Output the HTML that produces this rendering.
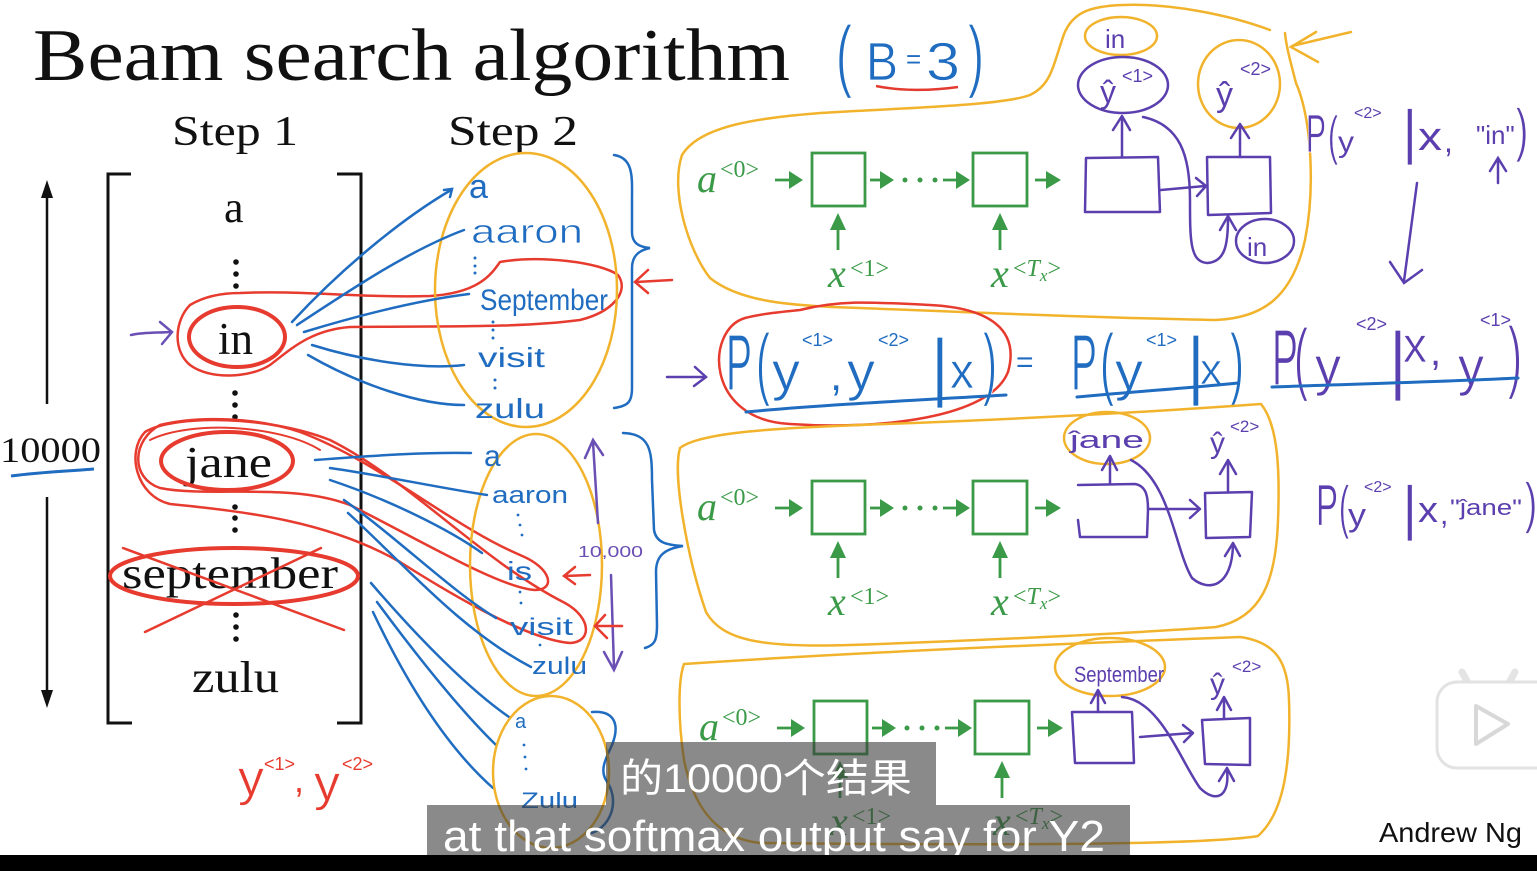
<!DOCTYPE html>
<html><head><meta charset="utf-8"><style>
html,body{margin:0;padding:0;background:#fff;}
svg{display:block;}
.hw{font-family:"Liberation Sans",sans-serif;}
.th{stroke:#fff;stroke-width:0.7px;}
.th2{stroke:#fff;stroke-width:1.3px;}
.ser{font-family:"Liberation Serif",serif;}
</style></head><body>
<svg width="1537" height="871" viewBox="0 0 1537 871" xmlns="http://www.w3.org/2000/svg">
<rect width="1537" height="871" fill="#fff"/>

<!-- Title -->
<text class="ser" x="33" y="80" font-size="74" textLength="757" lengthAdjust="spacingAndGlyphs" fill="#111">Beam search algorithm</text>
<text class="ser" x="172" y="145" font-size="42" textLength="126" lengthAdjust="spacingAndGlyphs" fill="#111">Step 1</text>
<text class="ser" x="448" y="145" font-size="42" textLength="130" lengthAdjust="spacingAndGlyphs" fill="#111">Step 2</text>

<!-- (B=3) -->
<g fill="#1f6cc0" class="hw">
<text class="th2" x="836" y="82" font-size="80" textLength="16" lengthAdjust="spacingAndGlyphs">(</text>
<text class="th" x="866" y="80" font-size="54" textLength="32" lengthAdjust="spacingAndGlyphs">B</text>
<text x="906" y="68" font-size="26">=</text>
<text class="th" x="926" y="80" font-size="54" textLength="34" lengthAdjust="spacingAndGlyphs">3</text>
<text class="th2" x="968" y="82" font-size="80" textLength="16" lengthAdjust="spacingAndGlyphs">)</text>
</g>
<path d="M876,86 C900,91 930,91 958,87" stroke="#e33b2f" stroke-width="2.5" fill="none"/>

<!-- Left arrows and 10000 -->
<g stroke="#111" stroke-width="2.5" fill="#111">
<line x1="47" y1="196" x2="47" y2="404"/>
<polygon points="41,198 47,180 53,198" stroke="none"/>
<line x1="47" y1="497" x2="47" y2="690"/>
<polygon points="41,690 47,708 53,690" stroke="none"/>
</g>
<text class="ser" x="0" y="462" font-size="36" textLength="101" lengthAdjust="spacingAndGlyphs" fill="#111">10000</text>
<path d="M11,476 C40,472 70,471 94,469" stroke="#1f6cc0" stroke-width="3" fill="none"/>

<!-- Bracket -->
<path d="M131,174 L108,174 L108,723 L132,723" stroke="#111" stroke-width="3" fill="none"/>
<path d="M337,174 L361,174 L361,723 L337,723" stroke="#111" stroke-width="3" fill="none"/>

<!-- Step1 words -->
<g class="ser" fill="#111">
<text x="224" y="222" font-size="44">a</text>
<text x="218" y="354" font-size="45">in</text>
<text x="185" y="477" font-size="44" textLength="87" lengthAdjust="spacingAndGlyphs">jane</text>
<text x="122" y="588" font-size="44" textLength="216" lengthAdjust="spacingAndGlyphs">september</text>
<text x="192" y="692" font-size="44" textLength="87" lengthAdjust="spacingAndGlyphs">zulu</text>
</g>
<g fill="#111">
<circle cx="236" cy="262" r="2.8"/><circle cx="236" cy="274" r="2.8"/><circle cx="236" cy="286" r="2.8"/>
<circle cx="235" cy="393" r="2.8"/><circle cx="235" cy="405" r="2.8"/><circle cx="235" cy="417" r="2.8"/>
<circle cx="235" cy="507" r="2.8"/><circle cx="235" cy="518" r="2.8"/><circle cx="235" cy="530" r="2.8"/>
<circle cx="236" cy="615" r="2.8"/><circle cx="236" cy="627" r="2.8"/><circle cx="236" cy="639" r="2.8"/>
</g>

<!-- Red marks in step 1 -->
<g stroke="#e63b2e" fill="none" stroke-linecap="round">
<ellipse cx="237" cy="337" rx="48" ry="30" stroke-width="4"/>
<path d="M240,293 C300,290 360,298 430,296 C480,293 492,273 500,262 C540,255 600,262 618,275 C630,292 612,312 580,320 C520,328 440,326 350,327 C310,330 290,350 270,365 C250,378 210,380 190,365 C172,350 175,320 190,305 C205,296 222,293 240,293 Z" stroke-width="2.5"/>
<ellipse cx="227" cy="461" rx="66" ry="29" stroke-width="4"/>
<path d="M160,425 C200,415 260,418 300,432 C380,462 450,525 520,555 C552,568 556,590 535,590 C500,588 420,540 350,505 C290,482 210,498 160,488 C130,478 132,440 160,425 Z" stroke-width="2.5"/>
<path d="M145,432 C175,414 270,416 330,440 C410,480 480,560 565,603 C592,618 592,642 570,643 C530,640 460,600 400,562 C330,522 250,512 170,504 C136,496 126,452 145,432 Z" stroke-width="2.5"/>
<path d="M150,440 C190,420 280,425 320,450" stroke-width="2"/>
<ellipse cx="234" cy="576" rx="124" ry="28" stroke-width="4"/>
<line x1="123" y1="548" x2="344" y2="630" stroke-width="2.5"/>
<line x1="145" y1="632" x2="321" y2="548" stroke-width="2.5"/>
</g>
<g stroke="#6a4fb5" stroke-width="2.5" fill="none" stroke-linecap="round">
<path d="M131,335 C145,332 158,333 171,332"/>
<path d="M160,322 L172,332 L162,344"/>
</g>

<!-- red y1 y2 -->
<g fill="#e63b2e" class="hw">
<text class="th" x="238" y="795" font-size="50" textLength="26" lengthAdjust="spacingAndGlyphs">y</text>
<text x="264" y="770" font-size="18">&lt;1&gt;</text>
<text x="294" y="792" font-size="36">,</text>
<text class="th" x="314" y="800" font-size="50" textLength="26" lengthAdjust="spacingAndGlyphs">y</text>
<text x="342" y="770" font-size="18">&lt;2&gt;</text>
</g>

<!-- Step 2 top ellipse -->
<ellipse cx="526" cy="290" rx="91" ry="137" stroke="#f2b32c" stroke-width="2.5" fill="none"/>
<g fill="#1f6cc0" class="hw">
<text x="469" y="198" font-size="34">a</text>
<text class="th" x="471" y="243" font-size="34" textLength="112" lengthAdjust="spacingAndGlyphs">aaron</text>
<text x="480" y="310" font-size="30" textLength="128" lengthAdjust="spacingAndGlyphs">September</text>
<text x="478" y="367" font-size="28" textLength="67" lengthAdjust="spacingAndGlyphs">visit</text>
<text x="475" y="418" font-size="28" textLength="70" lengthAdjust="spacingAndGlyphs">zulu</text>
</g>
<g fill="#1f6cc0">
<circle cx="475" cy="258" r="1.5"/><circle cx="475" cy="266" r="1.5"/><circle cx="475" cy="273" r="1.5"/>
<circle cx="493" cy="322" r="1.5"/><circle cx="493" cy="330" r="1.5"/><circle cx="493" cy="338" r="1.5"/>
<circle cx="495" cy="380" r="1.5"/><circle cx="495" cy="388" r="1.5"/>
</g>
<g stroke="#1f6cc0" stroke-width="2.5" fill="none" stroke-linecap="round">
<path d="M292,322 C340,270 400,220 451,190"/>
<path d="M444,190 L452,189 L450,197"/>
<path d="M297,325 C350,290 410,250 464,230"/>
<path d="M304,332 C360,315 420,300 469,294"/>
<path d="M312,345 C360,360 420,370 464,365"/>
<path d="M308,355 C360,385 420,405 464,405"/>
<path d="M614,155 C634,158 632,178 632,200 L632,232 C632,244 640,247 650,248 C640,250 632,255 632,268 L632,388 C632,402 628,406 614,408"/>
</g>
<g stroke="#e63b2e" stroke-width="2.5" fill="none" stroke-linecap="round">
<path d="M672,280 L636,282"/>
<path d="M648,270 L635,282 L648,293"/>
</g>

<!-- Step 2 second ellipse -->
<ellipse cx="536" cy="565" rx="66" ry="131" stroke="#f2b32c" stroke-width="2.5" fill="none"/>
<g fill="#1f6cc0" class="hw">
<text x="484" y="466" font-size="30">a</text>
<text x="492" y="503" font-size="24" textLength="76" lengthAdjust="spacingAndGlyphs">aaron</text>
<text x="507" y="580" font-size="26" textLength="25" lengthAdjust="spacingAndGlyphs">is</text>
<text x="510" y="635" font-size="24" textLength="63" lengthAdjust="spacingAndGlyphs">visit</text>
<text x="532" y="674" font-size="24" textLength="55" lengthAdjust="spacingAndGlyphs">zulu</text>
</g>
<g fill="#1f6cc0">
<circle cx="518" cy="515" r="1.4"/><circle cx="520" cy="525" r="1.4"/><circle cx="522" cy="535" r="1.4"/>
<circle cx="520" cy="592" r="1.4"/><circle cx="521" cy="603" r="1.4"/>
<circle cx="540" cy="645" r="1.4"/>
</g>
<g stroke="#6a4fb5" stroke-width="2.5" fill="none" stroke-linecap="round">
<path d="M598,523 L593,442"/><path d="M585,458 L593,440 L603,455"/>
<path d="M611,575 L614,668"/><path d="M604,652 L614,670 L622,652"/>
</g>
<text x="578" y="557" font-size="16" fill="#6a4fb5" class="hw" textLength="65" lengthAdjust="spacingAndGlyphs">10,000</text>
<g stroke="#e63b2e" stroke-width="2.5" fill="none" stroke-linecap="round">
<path d="M590,575 L565,576"/><path d="M575,567 L564,576 L575,584"/>
<path d="M622,626 L596,626"/><path d="M605,615 L595,626 L607,638"/>
</g>
<g stroke="#1f6cc0" stroke-width="2.5" fill="none" stroke-linecap="round">
<path d="M623,433 C650,434 652,450 652,480 L654,530 C656,542 665,545 683,546 C664,549 656,556 656,572 L657,625 C657,640 655,645 645,648"/>
<path d="M315,460 C380,455 430,452 471,453"/>
<path d="M330,468 C380,475 440,488 487,495"/>
<path d="M330,480 C390,500 450,530 482,553"/>
<path d="M344,500 C400,540 450,590 496,618"/>
<path d="M348,513 C400,560 460,630 531,667"/>
<path d="M371,583 C420,640 470,690 509,717"/>
<path d="M377,602 C420,660 460,710 496,745"/>
<path d="M373,612 C410,690 450,750 493,788"/>
<path d="M592,712 C615,710 620,725 612,745 C605,760 600,770 606,780 C620,800 612,825 592,833"/>
</g>

<!-- Step 2 third ellipse -->
<ellipse cx="551" cy="772" rx="58" ry="76" stroke="#f2b32c" stroke-width="2.5" fill="none"/>
<g fill="#1f6cc0" class="hw">
<text x="515" y="728" font-size="20">a</text>
<text x="521" y="808" font-size="22" textLength="57" lengthAdjust="spacingAndGlyphs">Zulu</text>
</g>
<g fill="#1f6cc0">
<circle cx="524" cy="745" r="1.4"/><circle cx="525" cy="757" r="1.4"/><circle cx="526" cy="769" r="1.4"/>
</g>

<!-- Right top orange lasso -->
<g stroke="#f2b32c" stroke-width="2.5" fill="none" stroke-linecap="round">
<path d="M1270,30 C1230,15 1170,3 1123,5 C1090,6 1070,12 1062,40 C1052,70 1050,85 1030,95 C1000,106 900,108 820,113 C760,118 700,125 682,155 C670,190 688,250 710,278 C740,302 790,306 860,308 C960,312 1100,318 1216,320 C1262,318 1292,298 1305,240 C1315,190 1312,120 1296,83 C1290,60 1286,45 1285,33"/>
<path d="M1351,32 L1292,46"/>
<path d="M1316,32 L1291,47 L1318,62"/>
<ellipse cx="1121" cy="36" rx="36" ry="19"/>
<ellipse cx="1239" cy="84" rx="41" ry="44"/>
</g>

<!-- RNN green groups -->
<g>
<g fill="#3a9a47" stroke="none">
<text class="ser" x="697" y="192" font-size="40" font-style="italic">a</text>
<text class="ser" x="720" y="177" font-size="24">&lt;0&gt;</text>
<polygon points="789,171 803,180 789,189"/>
<polygon points="880,171 894,180 880,189"/>
<polygon points="956,171 970,180 956,189"/>
<polygon points="1046,171 1061,180 1046,189"/>
<circle cx="905" cy="180" r="2.5"/><circle cx="920" cy="180" r="2.5"/><circle cx="935" cy="180" r="2.5"/>
<polygon points="830,230 838,213 846,230"/>
<polygon points="992,230 1000,213 1008,230"/>
<text class="ser" x="828" y="287" font-size="40" font-style="italic">x</text>
<text class="ser" x="850" y="276" font-size="24">&lt;1&gt;</text>
<text class="ser" x="991" y="287" font-size="40" font-style="italic">x</text>
<text class="ser" x="1013" y="276" font-size="24">&lt;<tspan font-style="italic">T</tspan><tspan font-size="17" dy="5" font-style="italic">x</tspan><tspan dy="-5">&gt;</tspan></text>
</g>
<g stroke="#3a9a47" stroke-width="2.8" fill="none">
<line x1="775" y1="180" x2="792" y2="180"/>
<line x1="870" y1="180" x2="884" y2="180"/>
<line x1="943" y1="180" x2="960" y2="180"/>
<line x1="1035" y1="180" x2="1050" y2="180"/>
<rect x="812" y="153" width="53" height="53"/>
<rect x="973" y="153" width="54" height="53"/>
<line x1="838" y1="228" x2="838" y2="250"/>
<line x1="1000" y1="228" x2="1000" y2="250"/>
</g>
</g>
<g transform="translate(0,328)">
<g fill="#3a9a47" stroke="none">
<text class="ser" x="697" y="192" font-size="40" font-style="italic">a</text>
<text class="ser" x="720" y="177" font-size="24">&lt;0&gt;</text>
<polygon points="789,171 803,180 789,189"/>
<polygon points="880,171 894,180 880,189"/>
<polygon points="956,171 970,180 956,189"/>
<polygon points="1046,171 1061,180 1046,189"/>
<circle cx="905" cy="180" r="2.5"/><circle cx="920" cy="180" r="2.5"/><circle cx="935" cy="180" r="2.5"/>
<polygon points="830,230 838,213 846,230"/>
<polygon points="992,230 1000,213 1008,230"/>
<text class="ser" x="828" y="287" font-size="40" font-style="italic">x</text>
<text class="ser" x="850" y="276" font-size="24">&lt;1&gt;</text>
<text class="ser" x="991" y="287" font-size="40" font-style="italic">x</text>
<text class="ser" x="1013" y="276" font-size="24">&lt;<tspan font-style="italic">T</tspan><tspan font-size="17" dy="5" font-style="italic">x</tspan><tspan dy="-5">&gt;</tspan></text>
</g>
<g stroke="#3a9a47" stroke-width="2.8" fill="none">
<line x1="775" y1="180" x2="792" y2="180"/>
<line x1="870" y1="180" x2="884" y2="180"/>
<line x1="943" y1="180" x2="960" y2="180"/>
<line x1="1035" y1="180" x2="1050" y2="180"/>
<rect x="812" y="153" width="53" height="53"/>
<rect x="973" y="153" width="54" height="53"/>
<line x1="838" y1="228" x2="838" y2="250"/>
<line x1="1000" y1="228" x2="1000" y2="250"/>
</g>
</g>
<g transform="translate(2,548)">
<g fill="#3a9a47" stroke="none">
<text class="ser" x="697" y="192" font-size="40" font-style="italic">a</text>
<text class="ser" x="720" y="177" font-size="24">&lt;0&gt;</text>
<polygon points="789,171 803,180 789,189"/>
<polygon points="880,171 894,180 880,189"/>
<polygon points="956,171 970,180 956,189"/>
<polygon points="1046,171 1061,180 1046,189"/>
<circle cx="905" cy="180" r="2.5"/><circle cx="920" cy="180" r="2.5"/><circle cx="935" cy="180" r="2.5"/>
<polygon points="830,230 838,213 846,230"/>
<polygon points="992,230 1000,213 1008,230"/>
<text class="ser" x="828" y="287" font-size="40" font-style="italic">x</text>
<text class="ser" x="850" y="276" font-size="24">&lt;1&gt;</text>
<text class="ser" x="991" y="287" font-size="40" font-style="italic">x</text>
<text class="ser" x="1013" y="276" font-size="24">&lt;<tspan font-style="italic">T</tspan><tspan font-size="17" dy="5" font-style="italic">x</tspan><tspan dy="-5">&gt;</tspan></text>
</g>
<g stroke="#3a9a47" stroke-width="2.8" fill="none">
<line x1="775" y1="180" x2="792" y2="180"/>
<line x1="870" y1="180" x2="884" y2="180"/>
<line x1="943" y1="180" x2="960" y2="180"/>
<line x1="1035" y1="180" x2="1050" y2="180"/>
<rect x="812" y="153" width="53" height="53"/>
<rect x="973" y="153" width="54" height="53"/>
<line x1="838" y1="228" x2="838" y2="250"/>
<line x1="1000" y1="228" x2="1000" y2="250"/>
</g>
</g>

<!-- Purple decoder top -->
<g stroke="#5b3fae" stroke-width="2.5" fill="none" stroke-linecap="round" stroke-linejoin="round">
<ellipse cx="1123" cy="85" rx="45" ry="28"/>
<path d="M1086,158 L1158,157 L1160,212 L1085,212 Z"/>
<path d="M1207,157 L1270,157 L1271,213 L1208,215 Z"/>
<path d="M1122,157 L1122,118"/><path d="M1113,130 L1122,116 L1130,130"/>
<path d="M1240,157 L1240,126"/><path d="M1231,138 L1240,124 L1249,138"/>
<path d="M1161,190 L1205,186"/><path d="M1196,178 L1206,186 L1197,196"/>
<path d="M1143,117 C1180,125 1190,155 1190,200 C1190,240 1190,262 1207,263 C1225,262 1228,245 1228,218"/>
<path d="M1220,230 L1228,216 L1236,230"/>
<ellipse cx="1265" cy="241" rx="29" ry="22"/>
</g>
<g fill="#5b3fae" class="hw">
<text x="1105" y="48" font-size="26">in</text>
<text x="1100" y="103" font-size="32">ŷ</text>
<text x="1122" y="82" font-size="18">&lt;1&gt;</text>
<text x="1216" y="106" font-size="34">ŷ</text>
<text x="1240" y="75" font-size="18">&lt;2&gt;</text>
<text x="1247" y="256" font-size="26">in</text>
</g>

<!-- P(y2|x,"in") -->
<g fill="#5b3fae" class="hw">
<text class="th" x="1306" y="152" font-size="54" textLength="20" lengthAdjust="spacingAndGlyphs">P</text>
<text class="th" x="1328" y="154" font-size="54" textLength="10" lengthAdjust="spacingAndGlyphs">(</text>
<text x="1338" y="152" font-size="30" textLength="16" lengthAdjust="spacingAndGlyphs">y</text>
<text x="1354" y="118" font-size="16">&lt;2&gt;</text>
<text class="th" x="1402" y="152" font-size="60">|</text>
<text x="1418" y="150" font-size="40" textLength="24" lengthAdjust="spacingAndGlyphs">x</text>
<text x="1444" y="152" font-size="32">,</text>
<text x="1476" y="144" font-size="26">"in"</text>
<text class="th" x="1516" y="150" font-size="58" textLength="12" lengthAdjust="spacingAndGlyphs">)</text>
</g>
<g stroke="#5b3fae" stroke-width="2.5" fill="none" stroke-linecap="round">
<path d="M1498,183 L1498,160"/><path d="M1490,171 L1498,158 L1506,171"/>
<path d="M1417,183 L1404,281"/><path d="M1390,262 L1404,283 L1422,270"/>
<path d="M667,377 L705,377"/><path d="M695,367 L706,377 L694,386"/>
</g>

<!-- Equation -->
<path d="M745,318 C705,330 705,420 790,424 C880,430 990,418 1008,372 C1020,330 990,308 930,305 C870,302 840,300 800,310 C780,312 760,314 745,318 Z" stroke="#e63b2e" stroke-width="2.5" fill="none"/>
<g fill="#1f6cc0" class="hw">
<text class="th2" x="726" y="390" font-size="80" textLength="26" lengthAdjust="spacingAndGlyphs">P</text>
<text class="th2" x="756" y="390" font-size="80" textLength="14" lengthAdjust="spacingAndGlyphs">(</text>
<text class="th" x="772" y="390" font-size="54" textLength="28" lengthAdjust="spacingAndGlyphs">y</text>
<text x="802" y="346" font-size="18">&lt;1&gt;</text>
<text x="830" y="390" font-size="44">,</text>
<text class="th" x="847" y="390" font-size="54" textLength="28" lengthAdjust="spacingAndGlyphs">y</text>
<text x="878" y="346" font-size="18">&lt;2&gt;</text>
<text class="th2" x="930" y="392" font-size="76">|</text>
<text class="th" x="950" y="388" font-size="50" textLength="24" lengthAdjust="spacingAndGlyphs">x</text>
<text class="th2" x="983" y="390" font-size="80" textLength="14" lengthAdjust="spacingAndGlyphs">)</text>
<text x="1016" y="372" font-size="30">=</text>
<text class="th2" x="1071" y="390" font-size="80" textLength="26" lengthAdjust="spacingAndGlyphs">P</text>
<text class="th2" x="1100" y="390" font-size="80" textLength="14" lengthAdjust="spacingAndGlyphs">(</text>
<text class="th" x="1115" y="390" font-size="54" textLength="28" lengthAdjust="spacingAndGlyphs">y</text>
<text x="1146" y="346" font-size="18">&lt;1&gt;</text>
<text class="th2" x="1186" y="390" font-size="76">|</text>
<text class="th" x="1200" y="384" font-size="44" textLength="22" lengthAdjust="spacingAndGlyphs">x</text>
<text class="th2" x="1230" y="390" font-size="80" textLength="14" lengthAdjust="spacingAndGlyphs">)</text>
</g>
<g fill="#5b3fae" class="hw">
<text class="th2" x="1272" y="385" font-size="80" textLength="26" lengthAdjust="spacingAndGlyphs">P</text>
<text class="th2" x="1294" y="385" font-size="80" textLength="14" lengthAdjust="spacingAndGlyphs">(</text>
<text class="th" x="1315" y="385" font-size="54" textLength="26" lengthAdjust="spacingAndGlyphs">y</text>
<text x="1356" y="330" font-size="18">&lt;2&gt;</text>
<text class="th2" x="1388" y="385" font-size="76">|</text>
<text class="th" x="1403" y="362" font-size="50" textLength="24" lengthAdjust="spacingAndGlyphs">x</text>
<text x="1430" y="365" font-size="40">,</text>
<text class="th" x="1458" y="385" font-size="54" textLength="26" lengthAdjust="spacingAndGlyphs">y</text>
<text x="1480" y="326" font-size="18">&lt;1&gt;</text>
<text class="th2" x="1508" y="383" font-size="80" textLength="14" lengthAdjust="spacingAndGlyphs">)</text>
</g>
<g stroke="#1f6cc0" stroke-width="3" fill="none" stroke-linecap="round">
<path d="M746,412 C820,405 920,400 1006,395"/>
<path d="M1077,397 C1130,392 1190,388 1238,383"/>
<path d="M1272,387 C1350,384 1440,382 1518,378"/>
</g>

<!-- Second orange box -->
<g stroke="#f2b32c" stroke-width="2.5" fill="none" stroke-linecap="round">
<path d="M1261,404 C1150,412 1000,420 860,425 C780,428 700,432 680,448 C672,475 688,560 706,612 C722,640 760,648 850,645 C1000,640 1150,632 1216,627 C1262,618 1276,580 1278,520 C1280,470 1278,425 1261,404"/>
<ellipse cx="1107" cy="438" rx="43" ry="26"/>
</g>
<g stroke="#5b3fae" stroke-width="2.5" fill="none" stroke-linecap="round" stroke-linejoin="round">
<path d="M1078,485 L1135,484 C1147,486 1148,498 1148,510 L1147,537 L1080,537 L1078,520"/>
<path d="M1205,493 L1252,492 L1250,537 L1206,538 Z"/>
<path d="M1110,484 L1110,458"/><path d="M1102,470 L1110,456 L1117,470"/>
<path d="M1228,492 L1228,462"/><path d="M1220,474 L1228,460 L1236,474"/>
<path d="M1148,509 L1198,509"/><path d="M1190,500 L1200,509 L1190,518"/>
<path d="M1131,460 C1170,480 1175,550 1192,578 C1208,592 1232,588 1233,545"/>
<path d="M1225,556 L1233,543 L1240,556"/>
</g>
<g fill="#5b3fae" class="hw">
<text x="1070" y="448" font-size="24" textLength="74" lengthAdjust="spacingAndGlyphs">ĵane</text>
<text x="1210" y="453" font-size="30">ŷ</text>
<text x="1230" y="432" font-size="17">&lt;2&gt;</text>
<text class="th" x="1316" y="525" font-size="58" textLength="22" lengthAdjust="spacingAndGlyphs">P</text>
<text class="th" x="1339" y="527" font-size="58" textLength="10" lengthAdjust="spacingAndGlyphs">(</text>
<text x="1348" y="526" font-size="32" textLength="18" lengthAdjust="spacingAndGlyphs">y</text>
<text x="1364" y="492" font-size="16">&lt;2&gt;</text>
<text class="th" x="1402" y="528" font-size="60">|</text>
<text x="1418" y="522" font-size="36" textLength="20" lengthAdjust="spacingAndGlyphs">x</text>
<text x="1440" y="524" font-size="30">,</text>
<text x="1450" y="515" font-size="22" textLength="72" lengthAdjust="spacingAndGlyphs">"ĵane"</text>
<text class="th" x="1525" y="522" font-size="56" textLength="12" lengthAdjust="spacingAndGlyphs">)</text>
</g>

<!-- Third orange box -->
<g stroke="#f2b32c" stroke-width="2.5" fill="none" stroke-linecap="round">
<path d="M684,664 C800,656 1000,646 1240,637 C1276,642 1288,662 1289,700 C1291,760 1285,812 1258,836 C1200,846 950,845 760,843 C712,838 692,800 684,760 C678,720 678,680 684,664"/>
<ellipse cx="1110" cy="667" rx="55" ry="29"/>
</g>
<g stroke="#5b3fae" stroke-width="2.5" fill="none" stroke-linecap="round" stroke-linejoin="round">
<path d="M1072,712 L1132,712 L1134,763 L1075,763 Z"/>
<path d="M1202,720 L1250,718 L1250,765 L1205,764 Z"/>
<path d="M1098,712 L1098,692"/><path d="M1091,703 L1098,690 L1105,703"/>
<path d="M1224,718 L1224,700"/><path d="M1217,710 L1224,697 L1231,710"/>
<path d="M1140,737 L1192,733"/><path d="M1183,725 L1193,733 L1184,742"/>
<path d="M1122,697 C1160,700 1180,760 1200,788 C1215,803 1230,798 1227,770"/>
<path d="M1219,781 L1227,768 L1234,781"/>
</g>
<g fill="#5b3fae" class="hw">
<text x="1074" y="682" font-size="22" textLength="90" lengthAdjust="spacingAndGlyphs">September</text>
<text x="1210" y="694" font-size="30">ŷ</text>
<text x="1232" y="672" font-size="17">&lt;2&gt;</text>
</g>

<!-- Andrew Ng -->
<text x="1379" y="842" font-size="28" font-family="Liberation Sans, sans-serif" fill="#111" textLength="143" lengthAdjust="spacingAndGlyphs">Andrew Ng</text>

<!-- bilibili icon -->
<g>
<path d="M1462,672 L1472,690" stroke="#e4e4e4" stroke-width="7" stroke-linecap="round"/>
<path d="M1515,672 L1505,690" stroke="#e4e4e4" stroke-width="7" stroke-linecap="round"/>
<rect x="1437" y="682" width="120" height="86" rx="20" fill="#fff" stroke="#e2e2e2" stroke-width="3"/>
<path d="M1476,706 L1508,724 L1476,744 Z" fill="#fff" stroke="#d8d8d8" stroke-width="4" stroke-linejoin="round"/>
</g>

<!-- Subtitles -->
<rect x="606" y="742" width="330" height="63" fill="rgba(60,60,60,0.6)"/>
<text x="620" y="792" font-size="40" fill="#fff" font-family="Liberation Sans, 'Noto Sans CJK SC', sans-serif" textLength="292" lengthAdjust="spacingAndGlyphs">的10000个结果</text>
<rect x="427" y="805" width="703" height="50" fill="rgba(60,60,60,0.6)"/>
<text x="443" y="851" font-size="44" fill="#fff" font-family="Liberation Sans, 'Noto Sans CJK SC', sans-serif" textLength="662" lengthAdjust="spacingAndGlyphs">at that softmax output say for Y2</text>

<rect x="0" y="855" width="1537" height="16" fill="#000"/>
</svg>
</body></html>
